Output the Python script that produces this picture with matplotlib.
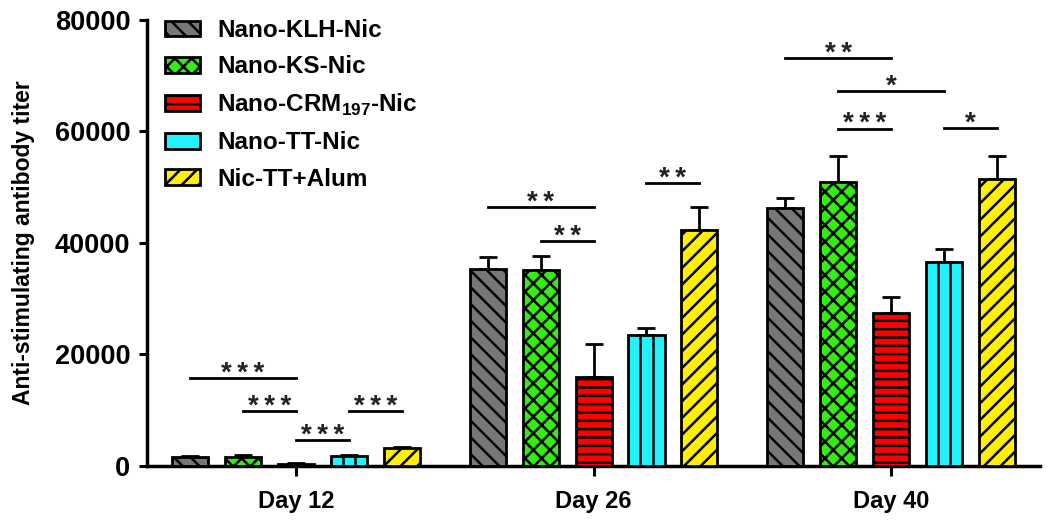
import numpy as np
import matplotlib
matplotlib.use("Agg")
import matplotlib.pyplot as plt

plt.rcParams["font.family"] = ["Liberation Sans", "DejaVu Sans"]
plt.rcParams["font.weight"] = "bold"
plt.rcParams["mathtext.fontset"] = "custom"
plt.rcParams["mathtext.rm"] = "Liberation Sans:bold"
plt.rcParams["mathtext.bf"] = "Liberation Sans:bold"
plt.rcParams["hatch.linewidth"] = 1.8
plt.rcParams["hatch.color"] = "black"

DAYS = ["Day 12", "Day 26", "Day 40"]
GROUPS = ["Nano-KLH-Nic", "Nano-KS-Nic", r"Nano-CRM$_{197}$-Nic",
          "Nano-TT-Nic", "Nic-TT+Alum"]
COLORS = ["#777777", "#33ee11", "#ff0000", "#22f2ff", "#fff000"]
HATCHES = ["\\\\", "xx", "--", "", "//"]

# means per group, one entry per day
KLH = [1600, 35300, 46200]
KS = [1700, 35200, 51000]
CRM = [400, 16000, 27500]
TT = [1800, 23500, 36600]
ALUM = [3200, 42300, 51500]
MEANS = [KLH, KS, CRM, TT, ALUM]

KLH_ERR = [200, 2200, 1800]
KS_ERR = [250, 2500, 4600]
CRM_ERR = [100, 5900, 2850]
TT_ERR = [250, 1250, 2350]
ALUM_ERR = [250, 4150, 4100]
ERRS = [KLH_ERR, KS_ERR, CRM_ERR, TT_ERR, ALUM_ERR]

# significance brackets: (day index, group a, group b, height, label)
SIG = [
    (0, 0, 2, 15800, "***"),
    (0, 1, 2, 9900, "***"),
    (0, 2, 3, 4700, "***"),
    (0, 3, 4, 9900, "***"),
    (1, 0, 2, 46500, "**"),
    (1, 1, 2, 40400, "**"),
    (1, 3, 4, 50800, "**"),
    (2, 0, 2, 73200, "**"),
    (2, 1, 3, 67300, "*"),
    (2, 1, 2, 60500, "***"),
    (2, 3, 4, 60600, "*"),
]

fig = plt.figure(figsize=(10.5, 5.22), dpi=100)
ax = fig.add_axes([0.14, 0.1073, 0.8505, 0.8544])

step = 0.178
width = 0.121
x = np.arange(len(DAYS))

for i, (name, col, h) in enumerate(zip(GROUPS, COLORS, HATCHES)):
    xs = x + (i - 2) * step
    ax.bar(xs, MEANS[i], width, color=col, edgecolor="black", linewidth=2,
           hatch=h, label=name, zorder=3)
    ax.errorbar(xs, MEANS[i], yerr=[np.zeros(3), ERRS[i]], fmt="none",
                ecolor="black", elinewidth=2, capsize=6.5, capthick=2, zorder=2)
    if h == "":
        # vertical divider lines of the cyan bars
        for frac in (1 / 3, 2 / 3):
            ax.vlines(xs - width / 2 + frac * width, 0, MEANS[i],
                      color="black", lw=1.8, zorder=4)

for d, a, b, y, lab in SIG:
    xa = d + (a - 2) * step
    xb = d + (b - 2) * step
    ax.plot([xa, xb], [y, y], color="black", lw=2, zorder=5)
    ax.annotate("\u2009".join(lab), xy=((xa + xb) / 2, y), xytext=(0, -2),
                textcoords="offset points", ha="center", va="baseline",
                fontsize=20, color="#222222")

ax.set_xlim(-0.5, 2.5)
ax.set_ylim(0, 80000)
ax.set_yticks([0, 20000, 40000, 60000, 80000])
ax.set_xticks(x)
ax.set_xticklabels(DAYS, fontsize=17, fontweight="bold")
ax.tick_params(axis="y", labelsize=19.5, width=2.2, length=6, pad=6)
ax.tick_params(axis="x", width=2.2, length=7, pad=10)
for lbl in ax.get_yticklabels():
    lbl.set_fontweight("bold")
ax.spines["top"].set_visible(False)
ax.spines["right"].set_visible(False)
ax.spines["left"].set_linewidth(2.5)
ax.spines["bottom"].set_linewidth(2.5)
ax.set_ylabel("Anti-stimulating antibody titer", fontsize=16.5,
              fontweight="bold", labelpad=14)

leg = ax.legend(loc="upper left", bbox_to_anchor=(18 / 893, 1 + 1 / 446),
                frameon=False, fontsize=17.5, handlelength=1.45,
                handleheight=0.62, labelspacing=0.55, handletextpad=0.7,
                borderaxespad=0, borderpad=0)
for t in leg.get_texts():
    t.set_fontweight("bold")

fig.savefig("out.png", dpi=100)
